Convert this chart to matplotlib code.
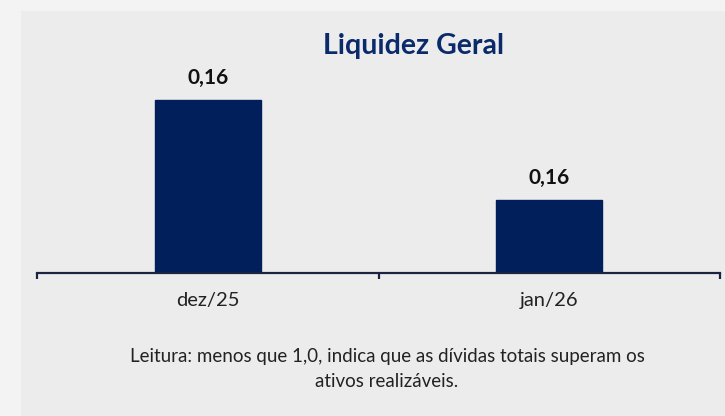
import matplotlib.pyplot as plt
from matplotlib.patches import Rectangle

# Data
categories = ['dez/25', 'jan/26']
values = [0.1643, 0.1560]
labels = ['0,16', '0,16']

navy = '#001f5b'
title_color = '#0b2a6b'

plt.rcParams['font.family'] = ['Lato', 'DejaVu Sans']

fig = plt.figure(figsize=(7.25, 4.16), dpi=100)
fig.patch.set_facecolor('#f3f3f3')

# gray slide panel
fig.patches.append(Rectangle((21 / 725, 0), 1, 1 - 11 / 416, transform=fig.transFigure,
                             facecolor='#ececec', edgecolor='none', zorder=-5))

ax = fig.add_axes([37 / 725, 1 - 272.5 / 416, 683 / 725, 241 / 416])
ax.set_facecolor('none')
ax.set_zorder(2)
x = range(len(categories))
ax.bar(x, values, width=0.31, bottom=0, color=navy, edgecolor=navy, zorder=2)
ax.set_xlim(-0.5, 1.5)
ax.set_ylim(0.15, 0.17)

for xi, v, lab in zip(x, values, labels):
    ax.annotate(lab, (xi, v), xytext=(0, 9), textcoords='offset points',
                ha='center', va='bottom', fontsize=15, fontweight='bold', color='#111111')

for s in ['top', 'right', 'left']:
    ax.spines[s].set_visible(False)
ax.spines['bottom'].set_color('#1a2440')
ax.spines['bottom'].set_linewidth(1.6)
ax.set_yticks([])
ax.set_xticks([-0.5, 0.5, 1.5])
ax.set_xticklabels(['', '', ''])
ax.tick_params(axis='x', length=4, width=1.6, color='#1a2440')
for xi, cat in zip(x, categories):
    ax.text(xi, -0.08, cat, transform=ax.get_xaxis_transform(), ha='center', va='top',
            fontsize=14.5, color='#222222')

fig.text(413 / 725, 1 - 54 / 416, 'Liquidez Geral', ha='center', va='baseline',
         fontsize=20.5, fontweight='bold', color=title_color)

fig.text(387 / 725, 1 - 348 / 416,
         'Leitura: menos que 1,0, indica que as dívidas totais superam os\nativos realizáveis.',
         ha='center', va='top', fontsize=13.5, color='#222222', linespacing=1.6)

fig.savefig('out.png', dpi=100, facecolor=fig.get_facecolor())
